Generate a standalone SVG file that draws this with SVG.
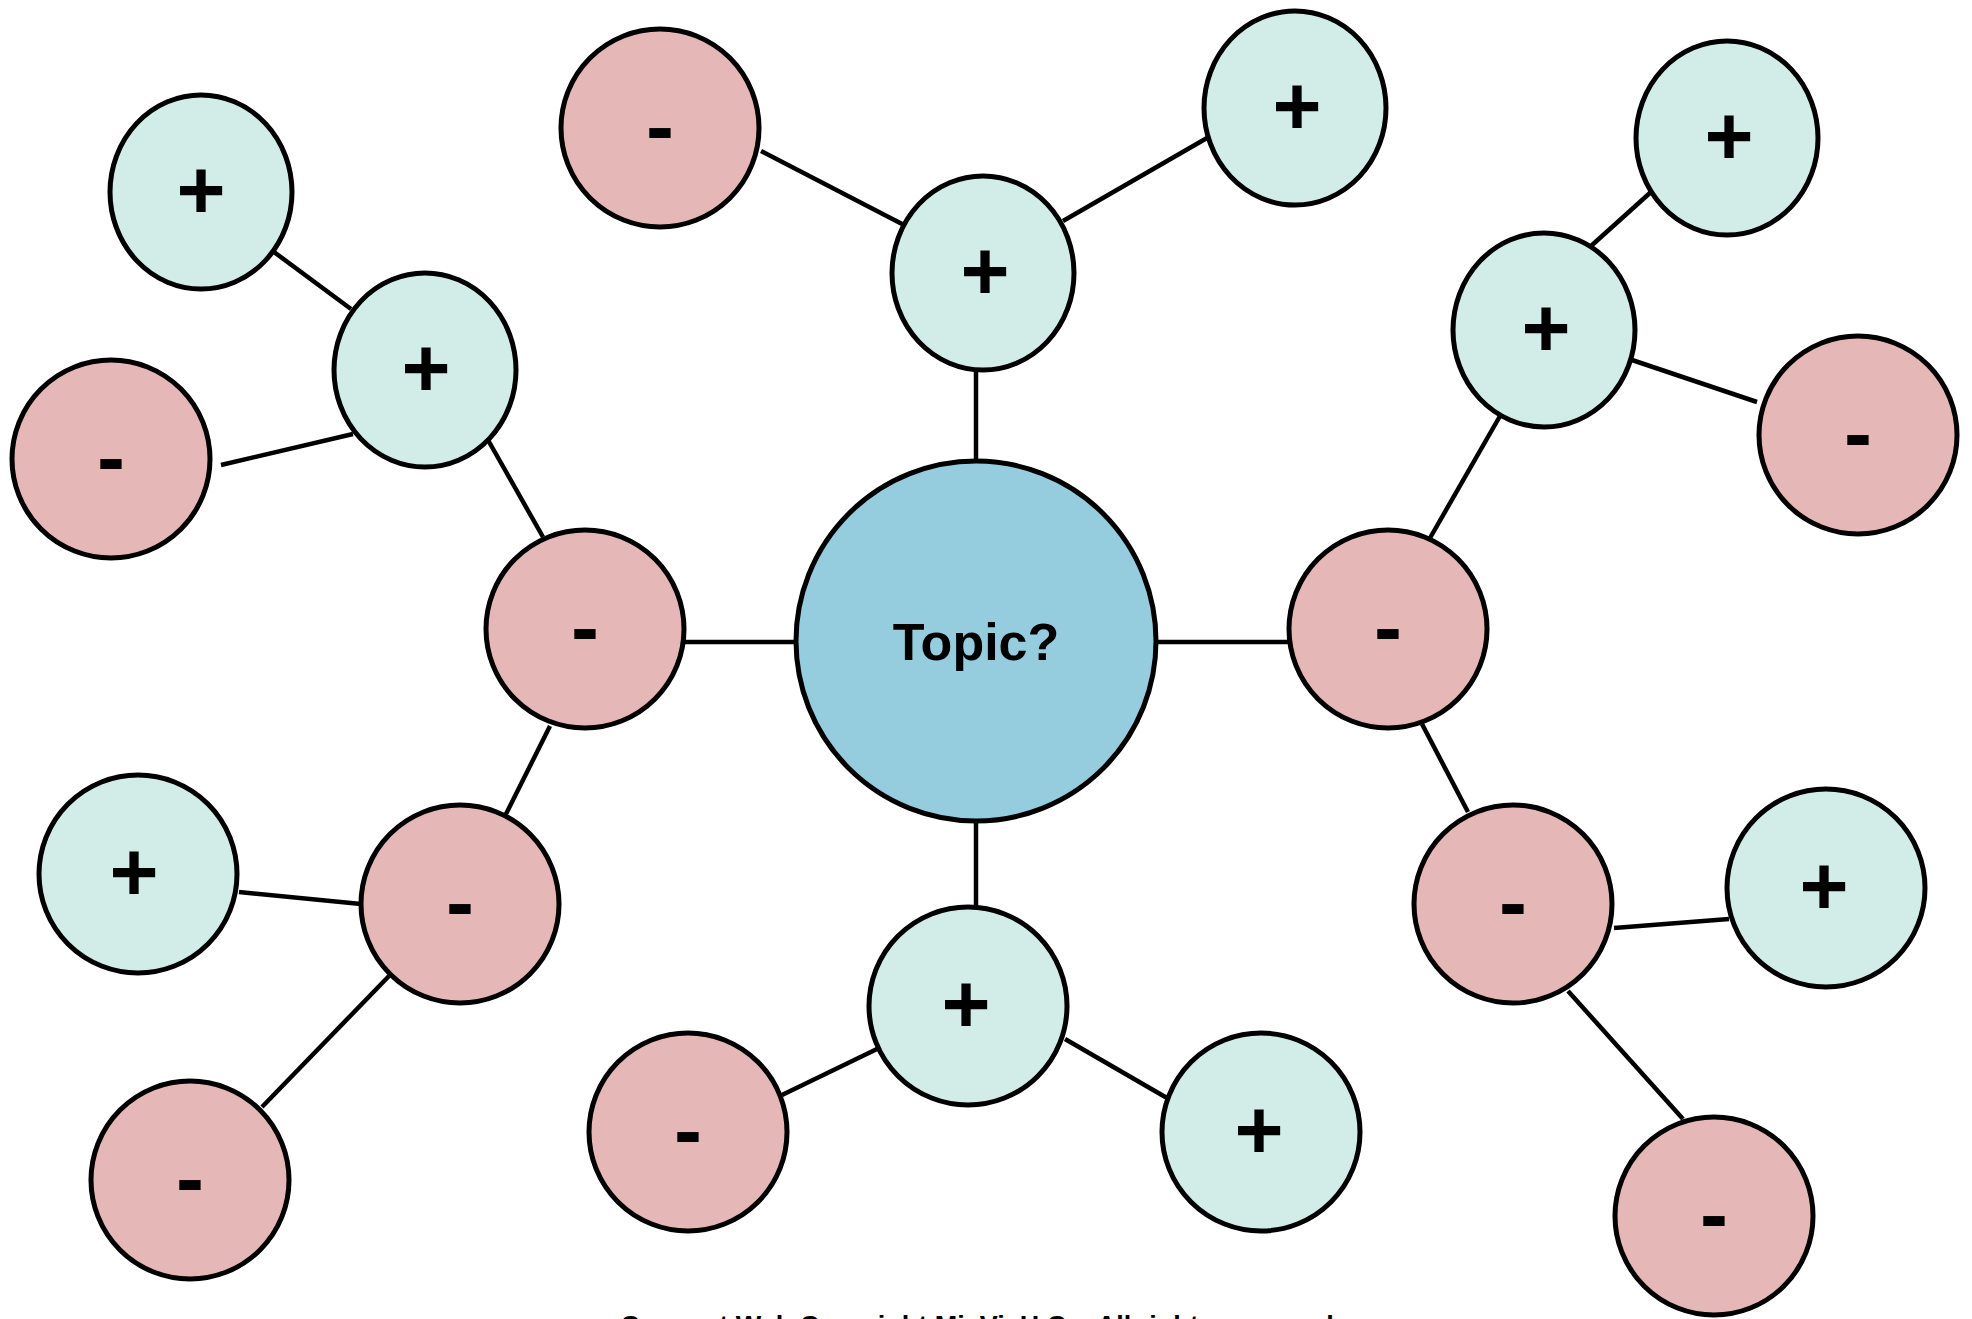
<svg xmlns="http://www.w3.org/2000/svg" width="1972" height="1319" viewBox="0 0 1972 1319">
  <style>
    .pos { fill: #d2ece7; stroke: #000; stroke-width: 5; }
    .neg { fill: #e5b7b7; stroke: #000; stroke-width: 5; }
    .topic { fill: #95ccde; stroke: #000; stroke-width: 5; }
    .sign { font-family: "Liberation Sans", Arial, sans-serif; font-weight: bold; font-size: 84px; text-anchor: middle; fill: #000; }
    .title { font-family: "Liberation Sans", Arial, sans-serif; font-weight: bold; font-size: 52px; text-anchor: middle; fill: #000; }
    .foot { font-family: "Liberation Sans", Arial, sans-serif; font-weight: bold; font-size: 27px; text-anchor: middle; fill: #000; }
    #connectors line { stroke: #000; stroke-width: 4.5; }
  </style>
  <rect width="1972" height="1319" fill="#fff"/>

  <g id="connectors">
    <line x1="976" y1="370" x2="976" y2="462"/>
    <line x1="684" y1="642" x2="797" y2="642"/>
    <line x1="1155" y1="642" x2="1290" y2="642"/>
    <line x1="976" y1="820" x2="976" y2="907"/>
    <line x1="761" y1="151" x2="904" y2="225"/>
    <line x1="1063" y1="221" x2="1207" y2="138"/>
    <line x1="1430" y1="538" x2="1500" y2="416"/>
    <line x1="1591" y1="246" x2="1651" y2="192"/>
    <line x1="1632" y1="360" x2="1757" y2="402"/>
    <line x1="1422" y1="724" x2="1468" y2="812"/>
    <line x1="1614" y1="928" x2="1729" y2="919"/>
    <line x1="1568" y1="991" x2="1683" y2="1119"/>
    <line x1="877" y1="1049" x2="782" y2="1095"/>
    <line x1="1065" y1="1039" x2="1167" y2="1098"/>
    <line x1="543" y1="537" x2="488" y2="440"/>
    <line x1="351" y1="309" x2="274" y2="252"/>
    <line x1="353" y1="434" x2="221" y2="465"/>
    <line x1="550" y1="726" x2="506" y2="814"/>
    <line x1="361" y1="904" x2="239" y2="892"/>
    <line x1="389" y1="976" x2="262" y2="1107"/>
  </g>

  <!-- central topic -->
  <g id="topic">
    <circle class="topic" cx="976" cy="641" r="180"/>
    <text class="title" x="976" y="660">Topic?</text>
  </g>

  <!-- upper branch -->
  <g id="n-top"><ellipse class="pos" cx="983" cy="273" rx="91" ry="97"/><text class="sign" x="985" y="300">+</text></g>
  <g id="n-top-left"><circle class="neg" cx="660" cy="128" r="99"/><text class="sign" x="660" y="155">-</text></g>
  <g id="n-top-right"><ellipse class="pos" cx="1295" cy="108" rx="91" ry="97"/><text class="sign" x="1297" y="135">+</text></g>

  <!-- right branch -->
  <g id="n-right"><circle class="neg" cx="1388" cy="629" r="99"/><text class="sign" x="1388" y="656">-</text></g>
  <g id="n-right-up"><ellipse class="pos" cx="1544" cy="330" rx="91" ry="97"/><text class="sign" x="1546" y="357">+</text></g>
  <g id="n-right-up-a"><ellipse class="pos" cx="1727" cy="138" rx="91" ry="97"/><text class="sign" x="1729" y="165">+</text></g>
  <g id="n-right-up-b"><circle class="neg" cx="1858" cy="435" r="99"/><text class="sign" x="1858" y="462">-</text></g>
  <g id="n-right-down"><circle class="neg" cx="1513" cy="904" r="99"/><text class="sign" x="1513" y="931">-</text></g>
  <g id="n-right-down-a"><circle class="pos" cx="1826" cy="888" r="99"/><text class="sign" x="1824" y="915">+</text></g>
  <g id="n-right-down-b"><circle class="neg" cx="1714" cy="1216" r="99"/><text class="sign" x="1714" y="1243">-</text></g>

  <!-- lower branch -->
  <g id="n-bottom"><circle class="pos" cx="968" cy="1006" r="99"/><text class="sign" x="966" y="1033">+</text></g>
  <g id="n-bottom-left"><circle class="neg" cx="688" cy="1132" r="99"/><text class="sign" x="688" y="1159">-</text></g>
  <g id="n-bottom-right"><circle class="pos" cx="1261" cy="1132" r="99"/><text class="sign" x="1259" y="1159">+</text></g>

  <!-- left branch -->
  <g id="n-left"><circle class="neg" cx="585" cy="629" r="99"/><text class="sign" x="585" y="656">-</text></g>
  <g id="n-left-up"><ellipse class="pos" cx="425" cy="370" rx="91" ry="97"/><text class="sign" x="426" y="397">+</text></g>
  <g id="n-left-up-a"><ellipse class="pos" cx="201" cy="192" rx="91" ry="97"/><text class="sign" x="201" y="219">+</text></g>
  <g id="n-left-up-b"><circle class="neg" cx="111" cy="459" r="99"/><text class="sign" x="111" y="486">-</text></g>
  <g id="n-left-down"><circle class="neg" cx="460" cy="904" r="99"/><text class="sign" x="460" y="931">-</text></g>
  <g id="n-left-down-a"><circle class="pos" cx="138" cy="874" r="99"/><text class="sign" x="134" y="901">+</text></g>
  <g id="n-left-down-b"><circle class="neg" cx="190" cy="1180" r="99"/><text class="sign" x="190" y="1207">-</text></g>

  <!-- footer, running past the lower edge -->
  <text class="foot" x="977" y="1335">Concept Web  Copyright MiaVisH Co.  All rights reserved</text>
</svg>
